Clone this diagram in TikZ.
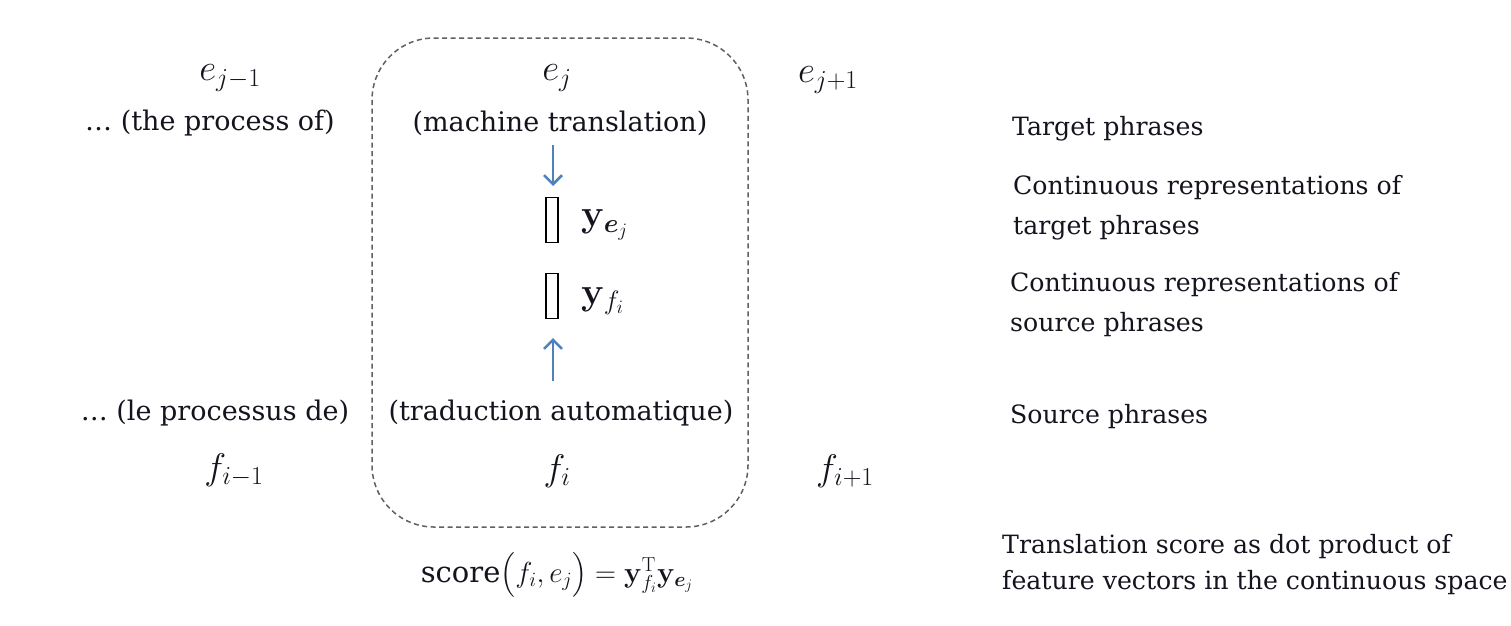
\RequirePackage{fix-cm}
\documentclass[tikz,border=0pt]{standalone}
\usepackage{amsmath,bm}
\usepackage[no-math]{fontspec}
\setmainfont{DejaVu Serif}
\usetikzlibrary{arrows.meta}
\definecolor{arrblue}{RGB}{79,129,189}
\definecolor{txt}{RGB}{20,20,30}
\begin{document}
\begin{tikzpicture}[x=1pt,y=-1pt,
  lbl/.style={inner sep=0pt, text=txt, font=\fontsize{27}{31}\selectfont},
  mth/.style={inner sep=0pt, text=txt, font=\fontsize{37}{42}\selectfont},
  vlab/.style={inner sep=0pt, text=txt, anchor=west, font=\fontsize{38}{42}\selectfont},
  side/.style={inner sep=0pt, text=txt, anchor=west, align=left, font=\fontsize{25.2}{40}\selectfont},
  vec/.style={draw=black, line width=1.2pt, minimum width=12pt, minimum height=45pt, inner sep=0pt},
  arr/.style={draw=arrblue, line width=2.5pt, -{Straight Barb[length=9pt,width=18pt,line width=2.5pt]}},
  grp/.style={draw=gray!75!black, line width=1.5pt, dash pattern=on 5pt off 3.5pt, rounded corners=62pt}]
\useasboundingbox (0,0) rectangle (1511,625);
\fill[white] (0,0) rectangle (1511,625);

% group box
\draw[grp] (372,38) rectangle (748,527);

% target side
\node[mth] (ejm) at (230,78) {$e_{j-1}$};
\node[mth] (ej) at (557,78) {$e_j$};
\node[mth] (ejp) at (828,80) {$e_{j+1}$};
\node[lbl] (tp) at (210,123) {… (the process of)};
\node[lbl] (mt) at (560,123) {(machine translation)};

% vectors
\node[vec] (ye) at (552,220) {};
\node[vec] (yf) at (552,296) {};
\node[vlab] (yel) at (581,225) {$\mathbf{y}_{\bm{e}_j}$};
\node[vlab] (yfl) at (581,301) {$\mathbf{y}_{f_i}$};

\coordinate (a1s) at (553,145);
\coordinate (a1e) at (553,186);
\coordinate (a2s) at (553,381);
\coordinate (a2e) at (553,338);
\draw[arr] (a1s) -- (a1e);
\draw[arr] (a2s) -- (a2e);

% source side
\node[lbl] (lp) at (215,413) {… (le processus de)};
\node[lbl] (ta) at (561,413) {(traduction automatique)};
\node[mth] (fim) at (234,470) {$f_{i-1}$};
\node[mth] (fi) at (557,471) {$f_i$};
\node[mth] (fip) at (845,471) {$f_{i+1}$};

% score
\node[lbl, font=\fontsize{29}{34}\selectfont] (sc) at (557,575) {score$\bigl(f_i,e_j\bigr)=\mathbf{y}_{f_i}^{\mathrm{T}}\mathbf{y}_{\bm{e}_j}$};

% side descriptions
\node[side] (d1) at (1012,129) {Target phrases};
\node[side] (d2) at (1013,208) {Continuous representations of\\target phrases};
\node[side] (d3) at (1010,305) {Continuous representations of\\source phrases};
\node[side] (d4) at (1010,417) {Source phrases};
\node[side, font=\fontsize{25.2}{36}\selectfont] (d5) at (1002,565) {Translation score as dot product of\\feature vectors in the continuous space};
\end{tikzpicture}
\end{document}
